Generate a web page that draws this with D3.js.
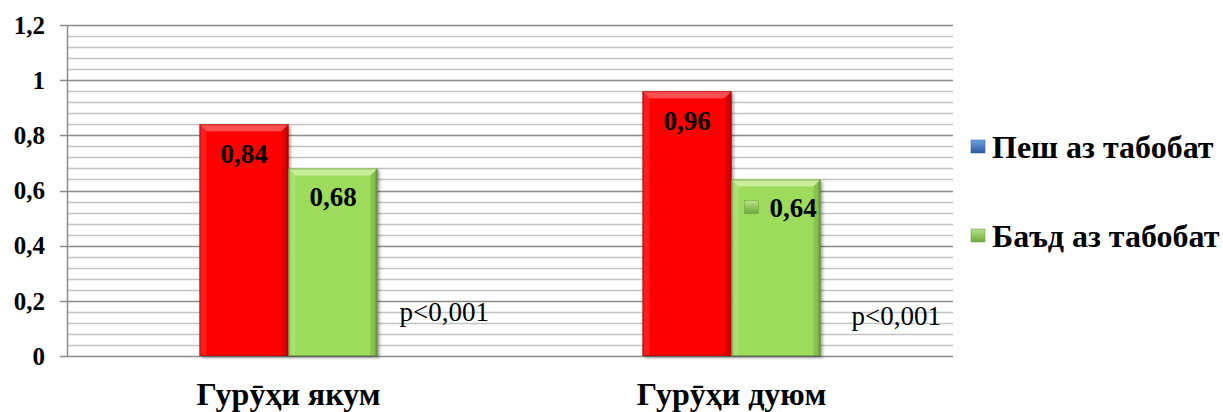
<!DOCTYPE html>
<html>
<head>
<meta charset="utf-8">
<script src="https://cdn.jsdelivr.net/npm/d3@7"></script>
<style>
  html, body { margin: 0; padding: 0; background: #fff; }
  svg { display: block; }
  text { font-family: "Liberation Serif", "Times New Roman", serif; }
</style>
</head>
<body>
<svg id="chart" width="1223" height="412"></svg>
<script>
// Chart data
const categories = ["Гурӯҳи якум", "Гурӯҳи дуюм"];
const seriesNames = ["Пеш аз табобат", "Баъд аз табобат"];
const valuesBefore = [0.84, 0.96];
const valuesAfter = [0.68, 0.64];
const valueLabelsBefore = ["0,84", "0,96"];
const valueLabelsAfter = ["0,68", "0,64"];
const pLabels = ["p<0,001", "p<0,001"];
const yTicks = [0, 0.2, 0.4, 0.6, 0.8, 1, 1.2];
const yTickLabels = ["0", "0,2", "0,4", "0,6", "0,8", "1", "1,2"];

const svg = d3.select("#chart");
const serif = "Liberation Serif";

const plot = { left: 67, right: 953, top: 25, bottom: 356 };

const x = d3.scaleBand().domain(categories).range([plot.left, plot.right]).paddingInner(0).paddingOuter(0);
const y = d3.scaleLinear().domain([0, 1.2]).range([plot.bottom, plot.top]);
const barW = 89;

// gradients, shadow
const defs = svg.append("defs");
function vgrad(id, stops) {
  const g = defs.append("linearGradient").attr("id", id).attr("x1", 0).attr("y1", 0).attr("x2", 0).attr("y2", 1);
  stops.forEach(s => g.append("stop").attr("offset", s[0]).attr("stop-color", s[1]));
}
function hgrad(id, stops) {
  const g = defs.append("linearGradient").attr("id", id).attr("x1", 0).attr("y1", 0).attr("x2", 1).attr("y2", 0);
  stops.forEach(s => g.append("stop").attr("offset", s[0]).attr("stop-color", s[1]));
}
hgrad("redBody", [[0, "#d80000"], [0.04, "#ff0000"], [0.96, "#ff0000"], [1, "#c00000"]]);
hgrad("greenBody", [[0, "#7fb84a"], [0.04, "#9ddb5c"], [0.96, "#9ddb5c"], [1, "#6f9f3e"]]);
vgrad("legendBlue", [[0, "#6fa3e0"], [1, "#2a5a9e"]]);
vgrad("legendGreen", [[0, "#b8e58a"], [1, "#6ea83a"]]);
const shadow = defs.append("filter").attr("id", "shadow").attr("x", "-10%").attr("y", "-10%").attr("width", "130%").attr("height", "130%");
shadow.append("feGaussianBlur").attr("in", "SourceAlpha").attr("stdDeviation", 1.5);
shadow.append("feOffset").attr("dx", 1.5).attr("dy", 1.5).attr("result", "o");
shadow.append("feComponentTransfer").append("feFuncA").attr("type", "linear").attr("slope", 0.35);
const fm = shadow.append("feMerge");
fm.append("feMergeNode");
fm.append("feMergeNode").attr("in", "SourceGraphic");

// gridlines: minor every 0.04, major every 0.2
const minor = d3.range(0, 1.2001, 0.04).filter(v => Math.abs(v / 0.2 - Math.round(v / 0.2)) > 1e-6);
svg.append("g").selectAll("line").data(minor).join("line")
  .attr("x1", plot.left).attr("x2", plot.right)
  .attr("y1", d => Math.round(y(d)) + 0.5).attr("y2", d => Math.round(y(d)) + 0.5)
  .attr("stroke", "#c4c4c4").attr("stroke-width", 1.5);
svg.append("g").selectAll("line").data(yTicks).join("line")
  .attr("x1", plot.left - 7).attr("x2", plot.right)
  .attr("y1", d => Math.round(y(d)) + 0.5).attr("y2", d => Math.round(y(d)) + 0.5)
  .attr("stroke", "#8c8c8c").attr("stroke-width", 1.5);

// y axis line
svg.append("line").attr("x1", plot.left + 0.5).attr("x2", plot.left + 0.5)
  .attr("y1", y(1.2)).attr("y2", y(0)).attr("stroke", "#8c8c8c").attr("stroke-width", 1.5);

// y tick labels
svg.append("g").selectAll("text").data(yTicks).join("text")
  .attr("x", 45).attr("y", d => y(d)).attr("dy", "0.35em")
  .attr("text-anchor", "end")
  .attr("font-family", serif).attr("font-weight", "bold").attr("font-size", 25)
  .text((d, i) => yTickLabels[i]);

// bars with a bevelled top and soft edges
function drawBar(g, x0, v, fillId, light, dark) {
  const top = y(v), h = y(0) - y(v), b = 7;
  const grp = g.append("g").attr("filter", "url(#shadow)");
  grp.append("rect").attr("x", x0).attr("y", top).attr("width", barW).attr("height", h).attr("fill", `url(#${fillId})`);
  grp.append("polygon")
    .attr("points", [[x0, top], [x0 + barW, top], [x0 + barW - b, top + b], [x0 + b, top + b]].map(p => p.join(",")).join(" "))
    .attr("fill", light).attr("opacity", 0.75);
  grp.append("polygon")
    .attr("points", [[x0, top], [x0 + b, top + b], [x0 + b, top + h], [x0, top + h]].map(p => p.join(",")).join(" "))
    .attr("fill", light).attr("opacity", 0.25);
  grp.append("polygon")
    .attr("points", [[x0 + barW, top], [x0 + barW - b, top + b], [x0 + barW - b, top + h], [x0 + barW, top + h]].map(p => p.join(",")).join(" "))
    .attr("fill", dark).attr("opacity", 0.25);
  grp.append("rect").attr("x", x0 + 0.5).attr("y", top + 0.5).attr("width", barW - 1).attr("height", h - 1)
    .attr("fill", "none").attr("stroke", dark).attr("stroke-opacity", 0.5);
}
const bars = svg.append("g");
categories.forEach((c, i) => {
  const cx = x(c) + x.bandwidth() / 2;
  drawBar(bars, cx - barW, valuesBefore[i], "redBody", "#ff6a6a", "#8a0000");
  drawBar(bars, cx, valuesAfter[i], "greenBody", "#d6f5b0", "#4f7a28");
});

// value labels
const labels = svg.append("g").attr("font-family", serif).attr("font-weight", "bold").attr("font-size", 27);
categories.forEach((c, i) => {
  const cx = x(c) + x.bandwidth() / 2;
  labels.append("text").attr("x", cx - barW / 2).attr("y", y(valuesBefore[i]) + 29).attr("dy", "0.35em")
    .attr("text-anchor", "middle").text(valueLabelsBefore[i]);
  const ax = i === 1 ? cx + barW / 2 + 17 : cx + barW / 2;
  labels.append("text").attr("x", ax).attr("y", y(valuesAfter[i]) + 28).attr("dy", "0.35em")
    .attr("text-anchor", "middle").text(valueLabelsAfter[i]);
  if (i === 1) {
    // legend key shown beside the second data label
    svg.append("rect").attr("x", cx + 13).attr("y", y(valuesAfter[i]) + 21).attr("width", 14).attr("height", 13)
      .attr("fill", "url(#legendGreen)").attr("stroke", "#6a9a3a").attr("stroke-width", 0.5);
  }
});

// p-value annotations
svg.append("g").selectAll("text").data(pLabels).join("text")
  .attr("x", (d, i) => x(categories[i]) + x.bandwidth() / 2 + barW + (i === 0 ? 22 : 31))
  .attr("y", (d, i) => y(0) - (i === 0 ? 35 : 31))
  .attr("font-family", serif).attr("font-size", 27)
  .text(d => d);

// category labels
svg.append("g").selectAll("text").data(categories).join("text")
  .attr("x", d => x(d) + x.bandwidth() / 2).attr("y", 405)
  .attr("text-anchor", "middle")
  .attr("font-family", serif).attr("font-weight", "bold").attr("font-size", 32)
  .text(d => d);

// legend
const legend = svg.append("g");
const legendFills = ["url(#legendBlue)", "url(#legendGreen)"];
const legendStroke = ["#2a5a9e", "#6a9a3a"];
const legendY = [147, 236];
seriesNames.forEach((s, i) => {
  legend.append("rect").attr("x", 971).attr("y", legendY[i] - 7).attr("width", 14).attr("height", 13)
    .attr("fill", legendFills[i]).attr("stroke", legendStroke[i]).attr("stroke-width", 0.5);
  legend.append("text").attr("x", 992).attr("y", legendY[i]).attr("dy", "0.35em")
    .attr("font-family", serif).attr("font-weight", "bold").attr("font-size", 32)
    .text(s);
});
</script>
</body>
</html>
